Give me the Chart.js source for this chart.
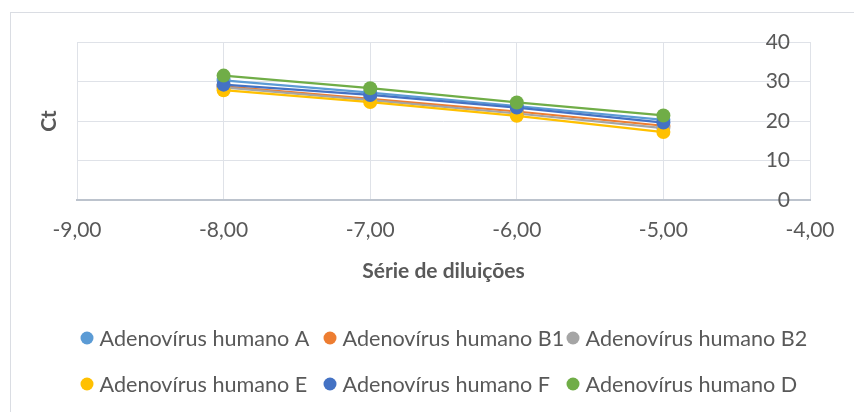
<!DOCTYPE html>
<html><head><meta charset="utf-8">
<script src="https://cdn.jsdelivr.net/npm/chart.js@4"></script>
<style>
html,body{margin:0;padding:0;background:#fff;overflow:hidden}
#wrap{position:relative;width:854px;height:412px;overflow:hidden}
#frame{position:absolute;left:10px;top:12px;width:900px;height:450px;border:1px solid #dadde3;box-sizing:border-box}
canvas{position:absolute;left:0;top:0}
</style></head><body>
<div id="wrap"><div id="frame"></div><canvas id="c" width="854" height="412"></canvas></div>
<script>
// Data
const dilutions = [-8, -7, -6, -5];
const seriesNames = ['Adenovírus humano A', 'Adenovírus humano B1', 'Adenovírus humano B2',
                     'Adenovírus humano E', 'Adenovírus humano F', 'Adenovírus humano D'];
const ctA  = [30.3, 27.2, 23.8, 20.3];
const ctB1 = [28.8, 25.6, 22.4, 18.8];
const ctB2 = [28.5, 25.3, 21.9, 18.2];
const ctE  = [27.8, 24.8, 21.3, 17.2];
const ctF  = [29.2, 26.6, 23.4, 19.6];
const ctD  = [31.5, 28.3, 24.7, 21.4];
const seriesColors = ['#5B9BD5', '#ED7D31', '#A5A5A5', '#FFC000', '#4472C4', '#70AD47'];
const xRange = [-9, -4];
const yRange = [0, 40];
const xTitle = 'Série de diluições';
const yTitle = 'Ct';

const allSeries = [ctA, ctB1, ctB2, ctE, ctF, ctD];
const FONT = 'Lato';
const TXT = '#595959';

const datasets = allSeries.map((vals, i) => ({
  label: seriesNames[i],
  data: dilutions.map((x, k) => ({x: x, y: vals[k]})),
  showLine: true,
  borderColor: seriesColors[i],
  backgroundColor: seriesColors[i],
  pointBackgroundColor: seriesColors[i],
  pointBorderColor: seriesColors[i],
  pointBorderWidth: 0,
  pointRadius: 7,
  pointHoverRadius: 7,
  borderWidth: 2.2,
  order: allSeries.length - i
}));

// Excel-style grid legend (3 equal columns, 2 rows)
const gridLegend = {
  id: 'gridLegend',
  afterDraw(chart) {
    const ctx = chart.ctx;
    const cols = 3, colW = 243, x0 = 87, y0 = 338, rowH = 46;
    ctx.save();
    ctx.font = '21.6px ' + FONT;
    ctx.textBaseline = 'middle';
    ctx.textAlign = 'left';
    chart.data.datasets.forEach((d, i) => {
      const cx = x0 + (i % cols) * colW;
      const cy = y0 + Math.floor(i / cols) * rowH;
      ctx.fillStyle = d.backgroundColor;
      ctx.beginPath();
      ctx.arc(cx, cy, 6.5, 0, Math.PI * 2);
      ctx.fill();
      ctx.fillStyle = TXT;
      ctx.fillText(d.label, cx + 12.5, cy + 1);
    });
    ctx.restore();
  }
};

new Chart(document.getElementById('c'), {
  type: 'scatter',
  data: {datasets},
  plugins: [gridLegend],
  options: {
    responsive: false,
    animation: false,
    events: [],
    layout: {padding: {left: 0, right: 0, top: 42, bottom: 109}},
    plugins: {
      tooltip: {enabled: false},
      legend: {display: false}
    },
    scales: {
      x: {
        type: 'linear',
        position: 'bottom',
        min: xRange[0], max: xRange[1],
        ticks: {stepSize: 1, padding: 18, color: TXT, font: {family: FONT, size: 21},
                callback: v => v.toFixed(2).replace('.', ',')},
        grid: {color: '#dfe2e8', lineWidth: 1, drawTicks: false},
        border: {display: true, color: '#bcc3cd', width: 2},
        title: {display: true, text: xTitle, color: TXT, font: {family: FONT, size: 21, weight: 'bold'},
                padding: {top: 0, bottom: 19}},
        afterFit: s => { s.height = 103; }
      },
      y: {
        type: 'linear',
        position: 'right',
        min: yRange[0], max: yRange[1],
        ticks: {stepSize: 10, mirror: true, padding: -20, color: TXT, font: {family: FONT, size: 21}},
        grid: {color: '#dfe2e8', lineWidth: 1, drawTicks: false},
        border: {display: false},
        afterFit: s => { s.width = 44; }
      },
      yl: {
        type: 'linear',
        position: 'left',
        min: yRange[0], max: yRange[1],
        ticks: {display: false},
        grid: {display: false, drawTicks: false},
        border: {display: false},
        title: {display: true, text: yTitle, color: TXT, font: {family: FONT, size: 21, weight: 'bold'},
                padding: {top: 37, bottom: 0}},
        afterFit: s => { s.width = 77; }
      }
    }
  }
});
</script>
</body></html>
